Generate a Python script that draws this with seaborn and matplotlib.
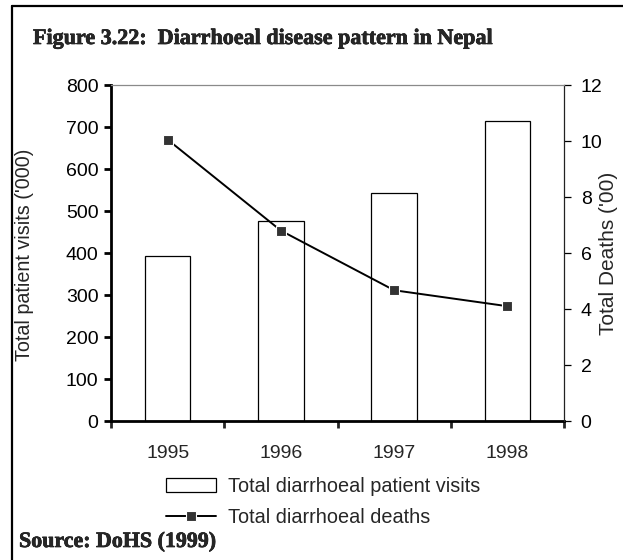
import numpy as np
import pandas as pd
import matplotlib
matplotlib.use("Agg")
import matplotlib.pyplot as plt
from matplotlib.lines import Line2D
from matplotlib.patches import Patch
import matplotlib.patheffects as pe
import seaborn as sns

years = ["1995", "1996", "1997", "1998"]
visits = [393, 477, 543, 714]
deaths = [10.05, 6.8, 4.67, 4.1]
visit_ticks = [0, 100, 200, 300, 400, 500, 600, 700, 800]
death_ticks = [0, 2, 4, 6, 8, 10, 12]

title = "Figure 3.22:  Diarrhoeal disease pattern in Nepal"
left_label = "Total patient visits ('000)"
right_label = "Total Deaths ('00)"
bar_label = "Total diarrhoeal patient visits"
line_label = "Total diarrhoeal deaths"
source = "Source: DoHS (1999)"

sns.set_style("white")
plt.rcParams["font.family"] = ["Liberation Sans", "DejaVu Sans"]

W, H = 623, 560
fig = plt.figure(figsize=(W / 100, H / 100), dpi=100)
ax = fig.add_axes([111 / W, 1 - 421 / H, (564 - 111) / W, (421 - 85) / H])

df = pd.DataFrame({"year": years, "visits": visits, "deaths": deaths})
sns.barplot(data=df, x="year", y="visits", ax=ax, color="white",
            edgecolor="black", linewidth=0.9, width=0.4, saturation=1)
ax.set_xlim(-0.5, len(years) - 0.5)
ax.set_ylim(visit_ticks[0], visit_ticks[-1])
ax.set_yticks(visit_ticks)
ax.set_xlabel("")
ax.set_ylabel("")

ax2 = ax.twinx()
xpos = np.arange(len(years))
sns.lineplot(x=xpos, y=deaths, ax=ax2, color="black", linewidth=1.4,
             marker="s", markersize=6.5, markerfacecolor="#333333",
             markeredgecolor="white", markeredgewidth=0.8)
ax2.set_ylim(death_ticks[0], death_ticks[-1])
ax2.set_yticks(death_ticks)
ax2.set_xlim(-0.5, len(years) - 0.5)

# spines
for s in ["left", "bottom"]:
    ax.spines[s].set_linewidth(2.0)
    ax.spines[s].set_color("black")
ax.spines["right"].set_visible(False)
ax.spines["top"].set_visible(False)
ax2.spines["left"].set_visible(False)
ax2.spines["bottom"].set_visible(False)
ax2.spines["right"].set_linewidth(0.9)
ax2.spines["right"].set_color("#222222")
ax2.spines["top"].set_linewidth(0.9)
ax2.spines["top"].set_color("#8a8a8a")

fs = 14
# ticks
ax.tick_params(axis="y", direction="out", length=5, width=2.0, labelsize=fs,
               pad=4, left=True, colors="black")
ax.set_xticks(xpos)
ax.set_xticklabels(years)
ax.set_xticks(np.arange(len(years) + 1) - 0.5, minor=True)
ax.tick_params(axis="x", which="major", length=0, labelsize=fs, pad=17)
ax.tick_params(axis="x", which="minor", direction="out", length=5, width=2.0,
               bottom=True)
ax2.tick_params(axis="y", direction="out", length=5, width=0.9, labelsize=fs,
                pad=7, right=True, colors="black")
ax2.set_ylabel("")

# axis titles
fig.text(25 / W, 1 - 255 / H, left_label, rotation=90, ha="center",
         va="center", fontsize=14.2)
fig.text(609 / W, 1 - 253 / H, right_label, rotation=90, ha="center",
         va="center", fontsize=15)

# legend
handles = [Patch(facecolor="white", edgecolor="black", linewidth=0.9),
           Line2D([0], [0], color="black", linewidth=1.4, marker="s",
                  markersize=6.5, markerfacecolor="#333333",
                  markeredgecolor="white", markeredgewidth=0.8)]
fig.legend(handles, [bar_label, line_label], loc="upper left",
           bbox_to_anchor=(166 / W, 1 - 477 / H), frameon=False,
           fontsize=14.3, handlelength=2.5, handletextpad=0.6,
           labelspacing=0.6, borderpad=0, borderaxespad=0)

# title and source
bold = [pe.withStroke(linewidth=0.45, foreground="black")]
fig.text(33 / W, 1 - 44 / H, title, fontsize=15.9, fontweight="bold",
         family=["Liberation Serif", "DejaVu Serif"], va="baseline",
         path_effects=bold)
fig.text(19 / W, 1 - 547 / H, source, fontsize=15.8, fontweight="bold",
         family=["Liberation Serif", "DejaVu Serif"], va="baseline",
         path_effects=bold)

# frame
fig.add_artist(Line2D([12 / W, 1.0], [1 - 5.5 / H, 1 - 5.5 / H],
                      transform=fig.transFigure, color="black", linewidth=1.6))
fig.add_artist(Line2D([12 / W, 12 / W], [1 - 5.5 / H, 0.0],
                      transform=fig.transFigure, color="black", linewidth=1.6))

fig.savefig("out.png", dpi=100)
